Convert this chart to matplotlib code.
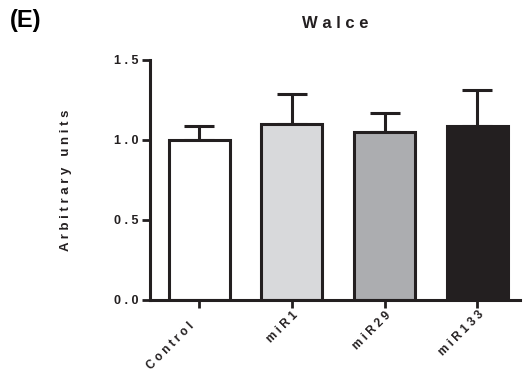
import matplotlib
matplotlib.use("Agg")
import matplotlib.pyplot as plt

categories = ["Control", "miR1", "miR29", "miR133"]
values = [1.00, 1.10, 1.05, 1.09]
sem = [0.09, 0.19, 0.12, 0.22]
bar_colors = ["#ffffff", "#d8d9db", "#acadb0", "#231f20"]
yticks = [0.0, 0.5, 1.0, 1.5]

dark = "#231f20"
fam = ["Liberation Sans", "DejaVu Sans"]
plt.rcParams["font.family"] = fam
plt.rcParams["font.weight"] = "bold"

def spaced(s, sep=" "):
    return sep.join(list(s))

fig = plt.figure(figsize=(5.26, 3.75), dpi=100)
ax = fig.add_axes([150/526, 75/375, 370/526, 240/375])

x = list(range(len(categories)))
ax.bar(x, values, width=0.66, color=bar_colors, edgecolor=dark, linewidth=2.2, zorder=3)
ax.errorbar(x, values, yerr=[[0]*len(sem), sem], fmt="none", ecolor=dark,
            elinewidth=2.2, capsize=11, capthick=2.2, zorder=2)

ax.set_xlim(-0.53, 3.46)
ax.set_ylim(0, 1.5)
ax.set_yticks(yticks)
ax.set_yticklabels([spaced(f"{v:.1f}") for v in yticks], fontsize=9, fontweight="bold", color=dark)
ax.set_xticks(x)
xlabels = [spaced(c) + ("     " if c == "Control" else "") for c in categories]
ax.set_xticklabels(xlabels, rotation=45, ha="right",
                   rotation_mode="anchor", fontsize=8.5, fontweight="bold", color=dark)

for s in ["top", "right"]:
    ax.spines[s].set_visible(False)
for s in ["left", "bottom"]:
    ax.spines[s].set_linewidth(2.2)
    ax.spines[s].set_color(dark)
ax.spines["bottom"].set_zorder(4)
ax.tick_params(axis="both", direction="out", length=5.5, width=2.0, color=dark)
ax.tick_params(axis="y", pad=3)
ax.tick_params(axis="x", pad=1)

ax.set_ylabel(spaced("Arbitrary") + "   " + spaced("units"), fontsize=9.5,
              fontweight="bold", color=dark, labelpad=30)

fig.text(335/526, 1 - 24/375, spaced("Walce"), ha="center", va="center",
         fontsize=12, fontweight="bold", color=dark)
fig.text(10/526, 1 - 21/375, "(E)", ha="left", va="center",
         fontsize=17, fontweight="bold", color="#000000")

fig.savefig("out.png", dpi=100)
